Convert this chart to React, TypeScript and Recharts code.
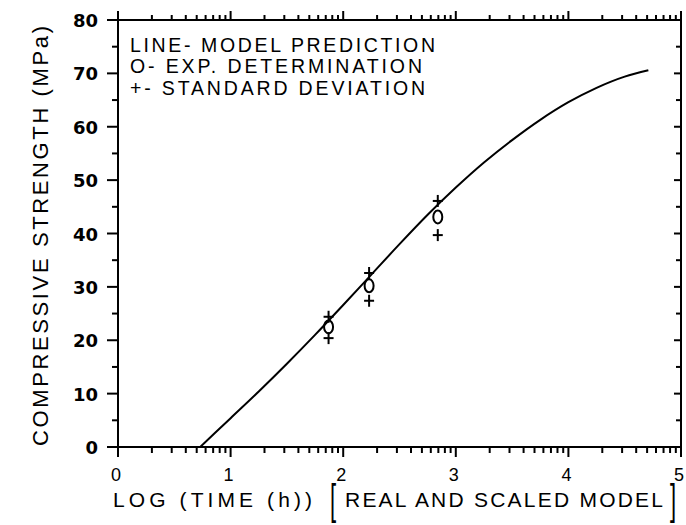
import React from 'react';
import { ComposedChart, Line, XAxis, YAxis } from 'recharts';

// Model prediction curve (log time, MPa)
const modelX = [0.73, 1.0, 1.25, 1.5, 1.75, 2.0, 2.25, 2.5, 2.75, 3.0, 3.25, 3.5, 3.75, 4.0, 4.25, 4.5, 4.71];
const modelY = [0, 5.4, 10.4, 15.6, 21.0, 26.6, 32.3, 38.0, 43.5, 48.6, 53.3, 57.5, 61.3, 64.6, 67.3, 69.4, 70.6];

// Experimental determinations
const expX = [1.87, 2.23, 2.84];
const expY = [22.5, 30.2, 43.1];

// Standard deviation marks
const sdUpper = [24.4, 32.6, 46.1];
const sdLower = [20.4, 27.4, 39.7];

// Axis ticks (log-cycle minor ticks between integers)
const xMajorTicks = [0, 1, 2, 3, 4, 5];
const xMinorTicks = [
  0.301, 0.477, 0.602, 0.699, 0.778, 0.845, 0.903, 0.954,
  1.301, 1.477, 1.602, 1.699, 1.778, 1.845, 1.903, 1.954,
  2.301, 2.477, 2.602, 2.699, 2.778, 2.845, 2.903, 2.954,
  3.301, 3.477, 3.602, 3.699, 3.778, 3.845, 3.903, 3.954,
  4.301, 4.477, 4.602, 4.699, 4.778, 4.845, 4.903, 4.954,
];
const yTicks = [0, 5, 10, 15, 20, 25, 30, 35, 40, 45, 50, 55, 60, 65, 70, 75, 80];
const yLabelTicks = [0, 10, 20, 30, 40, 50, 60, 70, 80];

const modelData = modelX.map((x, i) => ({ x, y: modelY[i] }));
const expData = expX.map((x, i) => ({ x, y: expY[i] }));
const sdUpperData = expX.map((x, i) => ({ x, y: sdUpper[i] }));
const sdLowerData = expX.map((x, i) => ({ x, y: sdLower[i] }));

// layout
const W = 686;
const H = 525;
const M = { top: 10, right: 0, bottom: 48, left: 58 };
const Y_AXIS_W = 60;
const R_AXIS_W = 5;
const TOP_H = 10;
const BOTTOM_H = 30;
const PLOT_L = M.left + Y_AXIS_W;
const PLOT_R = W - M.right - R_AXIS_W;
const PLOT_T = M.top + TOP_H;
const PLOT_B = H - M.bottom - BOTTOM_H;
const xDomain = [0, 5];
const xPix = (v: number) => PLOT_L + ((v - xDomain[0]) / (xDomain[1] - xDomain[0])) * (PLOT_R - PLOT_L);

const BottomTick = (props: any) => {
  const { x, y, payload } = props;
  const v = payload.value;
  return (
    <g>
      <line x1={x} y1={y} x2={x} y2={y + 10} stroke="#000" strokeWidth={2} />
      <text x={x - 2} y={y + 34} textAnchor="middle" fontFamily="'Liberation Sans', Arial, sans-serif" fontSize={18} fill="#000">
        {v}
      </text>
    </g>
  );
};

const LeftTick = (props: any) => {
  const { x, y, payload } = props;
  const v = payload.value;
  const major = yLabelTicks.includes(v);
  const edge = v === 0 || v === 80;
  return (
    <g>
      <line x1={x - (major ? 11 : 6)} y1={y} x2={x + (edge ? 9 : 0)} y2={y} stroke="#000" strokeWidth={2} />
      {v === 80 && <line x1={x} y1={y - 9} x2={x} y2={y} stroke="#000" strokeWidth={2} />}
      {major && (
        <text x={x - 20} y={y + 7} textAnchor="end" fontFamily="'DejaVu Sans', sans-serif" fontWeight="bold" fontSize={18} fill="#000">
          {v}
        </text>
      )}
    </g>
  );
};

const RightTick = (props: any) => {
  const { x, y, payload } = props;
  const major = yLabelTicks.includes(payload.value);
  return <line x1={x - (major ? 7 : 5)} y1={y} x2={x} y2={y} stroke="#000" strokeWidth={2} />;
};

const Ellipse = (props: any) => {
  const { cx, cy } = props;
  if (cx == null || cy == null) return null;
  return <ellipse key={`e-${cx}`} cx={cx} cy={cy} rx={4.5} ry={6.5} fill="none" stroke="#000" strokeWidth={2} />;
};

const Plus = (props: any) => {
  const { cx, cy } = props;
  if (cx == null || cy == null) return null;
  return (
    <g key={`p-${cx}-${cy}`} stroke="#000" strokeWidth={2}>
      <line x1={cx - 5} y1={cy} x2={cx + 5} y2={cy} />
      <line x1={cx} y1={cy - 6} x2={cx} y2={cy + 6} />
    </g>
  );
};

const font = "'Liberation Sans', Arial, sans-serif";
const axisLine = { stroke: '#000', strokeWidth: 2 };

export default function App() {
  return (
    <div style={{ position: 'absolute', left: 0, top: 0, width: W, height: H, background: '#fff' }}>
      <ComposedChart width={W} height={H} margin={M}>
        <XAxis
          xAxisId="b"
          dataKey="x"
          type="number"
          domain={xDomain}
          ticks={xMajorTicks}
          interval={0}
          height={BOTTOM_H}
          tickSize={0}
          tickMargin={0}
          tickLine={false}
          axisLine={axisLine}
          tick={(p: any) => <BottomTick {...p} />}
          allowDataOverflow
        />
        <XAxis
          xAxisId="t"
          orientation="top"
          type="number"
          domain={xDomain}
          height={TOP_H}
          tick={false}
          tickLine={false}
          axisLine={axisLine}
          allowDataOverflow
        />
        <YAxis
          yAxisId="l"
          type="number"
          domain={[0, 80]}
          ticks={yTicks}
          interval={0}
          width={Y_AXIS_W}
          tickSize={0}
          tickMargin={0}
          tickLine={false}
          axisLine={axisLine}
          tick={(p: any) => <LeftTick {...p} />}
          allowDataOverflow
        />
        <YAxis
          yAxisId="r"
          orientation="right"
          type="number"
          domain={[0, 80]}
          ticks={yTicks}
          interval={0}
          width={R_AXIS_W}
          tickSize={0}
          tickMargin={0}
          tickLine={false}
          axisLine={axisLine}
          tick={(p: any) => <RightTick {...p} />}
          allowDataOverflow
        />
        <Line
          xAxisId="b"
          yAxisId="l"
          data={modelData}
          dataKey="y"
          type="monotone"
          stroke="#000"
          strokeWidth={2}
          dot={false}
          activeDot={false}
          isAnimationActive={false}
        />
        <Line
          xAxisId="b"
          yAxisId="l"
          data={expData}
          dataKey="y"
          stroke="none"
          dot={(p: any) => <Ellipse {...p} />}
          activeDot={false}
          isAnimationActive={false}
        />
        <Line
          xAxisId="b"
          yAxisId="l"
          data={sdUpperData}
          dataKey="y"
          stroke="none"
          dot={(p: any) => <Plus {...p} />}
          activeDot={false}
          isAnimationActive={false}
        />
        <Line
          xAxisId="b"
          yAxisId="l"
          data={sdLowerData}
          dataKey="y"
          stroke="none"
          dot={(p: any) => <Plus {...p} />}
          activeDot={false}
          isAnimationActive={false}
        />
      </ComposedChart>
      <svg width={W} height={H} style={{ position: 'absolute', left: 0, top: 0, pointerEvents: 'none' }}>
        <g stroke="#000" strokeWidth={2}>
          {xMinorTicks.map((v) => (
            <line key={`bm-${v}`} x1={xPix(v)} y1={PLOT_B} x2={xPix(v)} y2={PLOT_B + 6} />
          ))}
          {xMinorTicks.map((v) => (
            <line key={`tm-${v}`} x1={xPix(v)} y1={PLOT_T} x2={xPix(v)} y2={PLOT_T - 5} />
          ))}
          {xMajorTicks.map((v) => (
            <line key={`tM-${v}`} x1={xPix(v)} y1={PLOT_T} x2={xPix(v)} y2={PLOT_T - 9} />
          ))}
        </g>
        <g fontFamily={font} fontSize={19.5} fill="#000">
          <text x={130} y={52} textLength={305} lengthAdjust="spacing">LINE- MODEL PREDICTION</text>
          <text x={130} y={73} textLength={292} lengthAdjust="spacing">O- EXP. DETERMINATION</text>
          <text x={130} y={95} textLength={295} lengthAdjust="spacing">+- STANDARD DEVIATION</text>
        </g>
        <g fontFamily={font} fontSize={21} fill="#000">
          <text x={113} y={507} textLength={199} lengthAdjust="spacing">LOG (TIME (h))</text>
          <text transform="translate(330,514) scale(1,1.9)" fontSize={22}>[</text>
          <text x={345} y={507} textLength={318} lengthAdjust="spacing">REAL AND SCALED MODEL</text>
          <text transform="translate(670,514) scale(1,1.9)" fontSize={22}>]</text>
        </g>
        <text
          x={48}
          y={236}
          transform="rotate(-90, 48, 236)"
          textAnchor="middle"
          fontFamily={font}
          fontSize={22}
          fill="#000"
          textLength={420}
          lengthAdjust="spacing"
        >
          COMPRESSIVE STRENGTH (MPa)
        </text>
      </svg>
    </div>
  );
}
